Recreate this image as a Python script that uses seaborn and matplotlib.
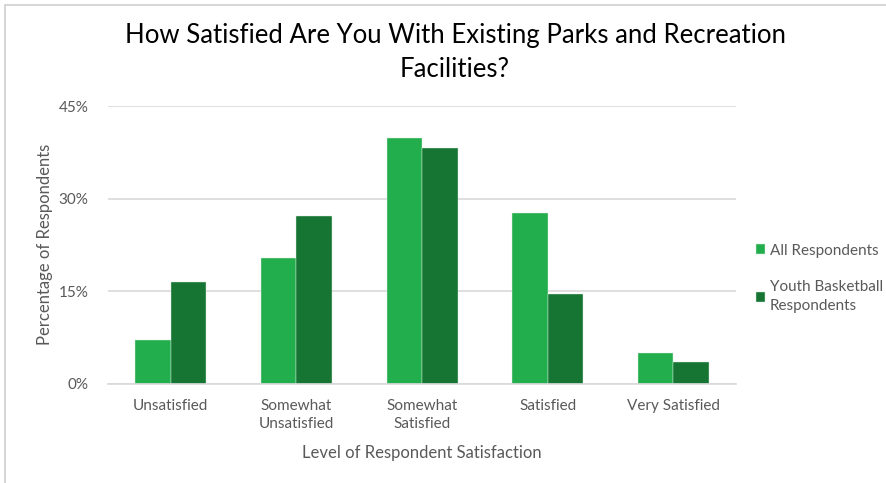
import matplotlib
matplotlib.use("Agg")
import matplotlib.pyplot as plt
import seaborn as sns
import pandas as pd
from matplotlib.patches import Rectangle

# Survey results (percent of respondents)
categories = ["Unsatisfied", "Somewhat\nUnsatisfied", "Somewhat\nSatisfied", "Satisfied", "Very Satisfied"]
all_respondents = [7.1, 20.4, 39.8, 27.6, 5.0]
youth_basketball = [16.4, 27.2, 38.2, 14.5, 3.5]
series_names = ["All Respondents", "Youth Basketball\nRespondents"]
y_ticks = [0, 15, 30, 45]
y_tick_labels = ["0%", "15%", "30%", "45%"]

df = pd.DataFrame({
    "Level": categories * 2,
    "Percent": all_respondents + youth_basketball,
    "Group": [series_names[0]] * len(categories) + [series_names[1]] * len(categories),
})

sns.set_theme(style="white")
plt.rcParams["font.family"] = ["Lato", "DejaVu Sans"]

text_gray = "#595959"
grid_gray = "#D9D9D9"
palette = {series_names[0]: "#23AE4D", series_names[1]: "#177533"}

fig = plt.figure(figsize=(8.87, 4.83), dpi=100)
ax = fig.add_axes([0.1218, 0.2056, 0.708, 0.5749])

sns.barplot(data=df, x="Level", y="Percent", hue="Group", palette=palette,
            width=0.565, gap=0, edgecolor="#DDF0E2", linewidth=0.3,
            saturation=1, ax=ax, legend=True)

ax.set_ylim(0, 45)
ax.set_xlim(-0.5, len(categories) - 0.5)
ax.set_yticks(y_ticks)
ax.set_yticklabels(y_tick_labels)
ax.yaxis.grid(True, color=grid_gray, linewidth=1.2)
ax.set_axisbelow(True)
for side in ["top", "right", "left"]:
    ax.spines[side].set_visible(False)
ax.spines["bottom"].set_color(grid_gray)
ax.spines["bottom"].set_linewidth(1.2)
ax.tick_params(axis="both", length=0, colors=text_gray, labelsize=11)
ax.tick_params(axis="y", pad=14)
ax.tick_params(axis="x", pad=11)
for lbl in ax.get_xticklabels():
    lbl.set_linespacing(1.35)

ax.set_xlabel("Level of Respondent Satisfaction", color=text_gray, fontsize=12, labelpad=10)
ax.set_ylabel("Percentage of Respondents", color=text_gray, fontsize=12, labelpad=4)

leg = ax.legend(loc="center left", bbox_to_anchor=(1.01, 0.38), frameon=False,
                fontsize=11, handlelength=0.6, handleheight=0.6, handletextpad=0.3,
                labelspacing=1.5)
for t in leg.get_texts():
    t.set_color(text_gray)
    t.set_linespacing(1.4)

fig.text(0.513, 0.892, "How Satisfied Are You With Existing Parks and Recreation\nFacilities?",
         ha="center", va="center", fontsize=18.5, color="black",
         linespacing=1.45)

# thin frame around the chart area
fig.patches.append(Rectangle((5 / 887, -0.1), 2.0, 1.1 - 5 / 483, transform=fig.transFigure,
                             fill=False, edgecolor="#D0D0D0", linewidth=1.2))

fig.savefig("out.png", dpi=100, facecolor="white")
